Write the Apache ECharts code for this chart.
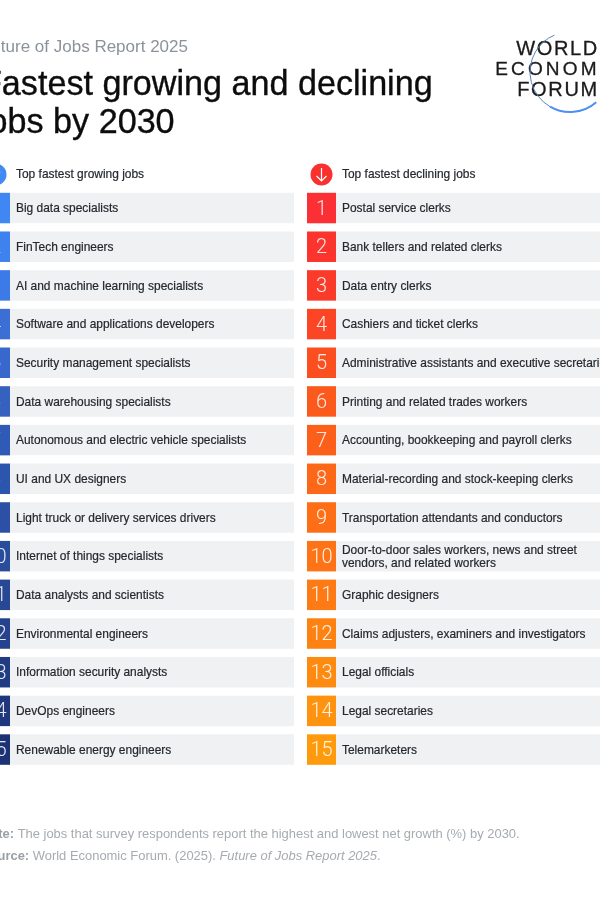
<!DOCTYPE html>
<html><head><meta charset="utf-8">
<style>html,body{margin:0;padding:0;background:#fff}#c{width:600px;height:900px}</style>
<script src="https://cdn.jsdelivr.net/npm/echarts@6/dist/echarts.min.js"></script>
</head><body><div id="c"></div>
<script>
const ranks = [1,2,3,4,5,6,7,8,9,10,11,12,13,14,15];
const growingJobs = ["Big data specialists","FinTech engineers","AI and machine learning specialists","Software and applications developers","Security management specialists","Data warehousing specialists","Autonomous and electric vehicle specialists","UI and UX designers","Light truck or delivery services drivers","Internet of things specialists","Data analysts and scientists","Environmental engineers","Information security analysts","DevOps engineers","Renewable energy engineers"];
const decliningJobs = ["Postal service clerks","Bank tellers and related clerks","Data entry clerks","Cashiers and ticket clerks","Administrative assistants and executive secretaries","Printing and related trades workers","Accounting, bookkeeping and payroll clerks","Material-recording and stock-keeping clerks","Transportation attendants and conductors","Door-to-door sales workers, news and street\nvendors, and related workers","Graphic designers","Claims adjusters, examiners and investigators","Legal officials","Legal secretaries","Telemarketers"];
const growingColors = ["#3f87f3","#3d82ee","#3c7be7","#3b6fd6","#3968cc","#3561bf","#2f5ab6","#2c56ad","#2b50a5","#2a4c9c","#294894","#26428c","#223c84","#1f377c","#1c3274"];
const decliningColors = ["#fb3035","#fb352e","#fb3b29","#fb4525","#fb4f20","#fc591c","#fc5f1a","#fd6818","#fd6e17","#fe7315","#fe7a14","#fe8212","#fe8a10","#ff920e","#ff9a0c"];

const FONT = '"Liberation Sans", Arial, sans-serif';
const CELL_UNIT = 1, AXIS_UNITS = 313 / 29;
const HS = '\u200A';
const INK = '#24282d';

function grid(left){ return {left:left, top:188.7, width:313, height:580.2, containLabel:false, outerBoundsMode:'none'}; }
function cellData(colors){ return ranks.map((r,i)=>({value:CELL_UNIT,itemStyle:{color:colors[i]}})); }
function rowSeries(idx, colors){
  return [{
    type:'bar', xAxisIndex:idx, yAxisIndex:idx, stack:'s'+idx, barWidth:30.5, silent:true,
    data:cellData(colors),
    label:{show:true, position:'inside', offset:[0,1.5], color:'#fff', fontFamily:'Roboto', fontWeight:300, fontSize:20, opacity:.88,
      formatter:p=>String(ranks[p.dataIndex])}
  },{
    type:'bar', xAxisIndex:idx, yAxisIndex:idx, stack:'s'+idx, barWidth:30.5, silent:true,
    data:ranks.map(()=>AXIS_UNITS-CELL_UNIT),
    itemStyle:{color:'#f0f1f3'},
    label:{show:true, position:'insideLeft', distance:6, offset:[0,1], color:INK, textBorderColor:INK, textBorderWidth:.2, fontFamily:FONT, fontSize:11.95, lineHeight:12.5, formatter:'{b}'}
  }];
}
const logoText = (t,left,top,size,gap)=>({type:'text',silent:true,left:left,top:top,style:{text:t.split('').join(gap),font:size+'px '+FONT,fill:'#1a1a1a',stroke:'#1a1a1a',lineWidth:.3}});

const chart = echarts.init(document.getElementById('c'),null,{renderer:'canvas'});
chart.setOption({
  animation:false,
  backgroundColor:'#fff',
  title:[
    {text:'Future of Jobs Report 2025',left:-19,top:39,padding:0,textStyle:{fontFamily:FONT,fontSize:17,fontWeight:'normal',color:'#8b929a'}},
    {text:'Fastest growing and declining\njobs by 2030',left:-19,top:66,padding:0,textStyle:{fontFamily:FONT,fontSize:34.15,fontWeight:'normal',color:'#0c0c0c',lineHeight:38.5,textBorderColor:'#0c0c0c',textBorderWidth:.35}},
    {text:'Top fastest growing jobs',left:16,top:169,padding:0,textStyle:{fontFamily:FONT,fontSize:11.95,fontWeight:'normal',color:INK,textBorderColor:INK,textBorderWidth:.2}},
    {text:'Top fastest declining jobs',left:342,top:169,padding:0,textStyle:{fontFamily:FONT,fontSize:11.95,fontWeight:'normal',color:INK,textBorderColor:INK,textBorderWidth:.2}},
    {text:'{b|Note:} The jobs that survey respondents report the highest and lowest net growth (%) by 2030.',left:-19,top:828,padding:0,
      textStyle:{rich:{b:{fontFamily:FONT,fontSize:12.95,fontWeight:'bold',color:'#9aa0a6'}},fontFamily:FONT,fontSize:12.95,fontWeight:'normal',color:'#a6abb0'}},
    {text:'{b|Source:} World Economic Forum. (2025). {i|Future of Jobs Report 2025}.',left:-19,top:850,padding:0,
      textStyle:{rich:{b:{fontFamily:FONT,fontSize:12.95,fontWeight:'bold',color:'#9aa0a6'},i:{fontFamily:FONT,fontSize:12.95,fontStyle:'italic',color:'#a6abb0'}},fontFamily:FONT,fontSize:12.95,fontWeight:'normal',color:'#a6abb0'}}
  ],
  grid:[grid(-19),grid(307)],
  xAxis:[0,1].map(i=>({type:'value',gridIndex:i,min:0,max:AXIS_UNITS,show:false})),
  yAxis:[
    {type:'category',gridIndex:0,inverse:true,show:false,data:growingJobs},
    {type:'category',gridIndex:1,inverse:true,show:false,data:decliningJobs}
  ],
  series:[...rowSeries(0,growingColors),...rowSeries(1,decliningColors)],
  graphic:[
    {type:'circle',silent:true,shape:{cx:-4.5,cy:174.5,r:11},style:{fill:'#4389f3'}},
    {type:'polyline',silent:true,shape:{points:[[-9,173],[-4.5,168],[0,173]]},style:{stroke:'#fff',lineWidth:1.2,fill:null}},
    {type:'line',silent:true,shape:{x1:-4.5,y1:168,x2:-4.5,y2:181},style:{stroke:'#fff',lineWidth:1.2}},
    {type:'circle',silent:true,shape:{cx:321.5,cy:174.5,r:11},style:{fill:'#f8312f'}},
    {type:'polyline',silent:true,shape:{points:[[316.5,176],[321.5,181],[326.5,176]]},style:{stroke:'#fff',lineWidth:1.2,fill:null}},
    {type:'line',silent:true,shape:{x1:321.5,y1:168,x2:321.5,y2:181},style:{stroke:'#fff',lineWidth:1.2}},
    logoText('WORLD',516,39,20,HS),
    logoText('ECONOMIC',495,60,19,HS+HS),
    logoText('FORUM',517,80,20,HS),
    {type:'arc',silent:true,shape:{cx:570,cy:72,r:40,startAngle:120*Math.PI/180,endAngle:247*Math.PI/180,clockwise:true},
      style:{fill:null,lineWidth:1,stroke:'#5f80bd'}},
    {type:'arc',silent:true,shape:{cx:570,cy:72,r:40,startAngle:49*Math.PI/180,endAngle:120*Math.PI/180,clockwise:true},
      style:{fill:null,lineWidth:2,stroke:'#4d8ff5'}}
  ]
});
</script></body></html>
